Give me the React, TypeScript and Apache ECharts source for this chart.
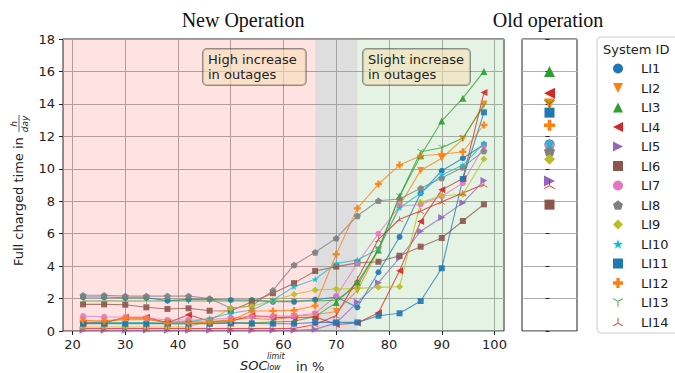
import React, { useEffect, useRef } from 'react';
import * as echarts from 'echarts';

// ---------- data ----------
const soc = [22, 26, 30, 34, 38, 42, 46, 50, 54, 58, 62, 66, 70, 74, 78, 82, 86, 90, 94, 98];
const systems = ['LI1', 'LI2', 'LI3', 'LI4', 'LI5', 'LI6', 'LI7', 'LI8', 'LI9', 'LI10', 'LI11', 'LI12', 'LI13', 'LI14'];

const li1 = [2.1, 2.1, 2.05, 2.05, 1.87, 1.95, 1.95, 1.91, 1.91, 1.8, 1.8, 1.93, 2.1, 1.46, 3.62, 5.8, 8.49, 9.88, 10.65, 11.5];
const li2 = [0.65, 0.6, 0.7, 0.7, 0.55, 0.6, 0.55, 0.7, 0.8, 0.7, 0.9, 1.0, 1.2, 2.5, 5.0, 7.7, 9.9, 10.65, 11.83, 14.0];
const li3 = [0.5, 0.5, 0.5, 0.5, 0.45, 0.45, 0.5, 0.5, 0.5, 0.55, 0.6, 0.9, 1.75, 3.0, 5.0, 8.3, 10.8, 12.95, 14.35, 16.0];
const li4 = [0.5, 0.5, 0.85, 0.85, 0.5, 1.0, 0.6, 0.6, 0.95, 0.85, 0.8, 0.88, 0.4, 0.5, 1.13, 3.72, 6.75, 8.7, 9.4, 14.7];
const li5 = [0.05, 0.05, 0.05, 0.05, 0.05, 0.05, 0.05, 0.05, 0.05, 0.05, 0.05, 0.1, 0.5, 1.77, 2.98, 4.5, 6.15, 7.0, 7.9, 9.27];
const li6 = [1.64, 1.64, 1.62, 1.46, 1.36, 1.4, 1.25, 1.23, 1.8, 2.33, 2.95, 3.7, 3.97, 4.2, 4.27, 4.64, 5.2, 5.73, 6.78, 7.81];
const li7 = [0.92, 0.88, 0.85, 0.8, 0.68, 0.68, 0.7, 0.8, 0.9, 0.92, 0.92, 1.09, 2.16, 4.18, 6.0, 7.7, 7.8, 8.3, 9.12, 11.4];
const li8 = [2.2, 2.2, 2.15, 2.15, 2.15, 2.15, 2.0, 1.4, 1.55, 2.5, 4.07, 4.85, 5.72, 7.1, 8.03, 8.14, 8.8, 9.43, 10.1, 11.1];
const li9 = [0.25, 0.25, 0.25, 0.25, 0.25, 0.25, 0.65, 1.4, 1.54, 1.87, 2.26, 2.53, 2.59, 2.63, 2.69, 2.73, 7.93, 8.34, 8.43, 10.6];
const li10 = [0.5, 0.5, 0.5, 0.5, 0.5, 0.55, 0.78, 1.09, 1.29, 1.91, 2.73, 3.19, 4.17, 4.38, 5.05, 7.6, 8.49, 9.62, 10.23, 11.57];
const li11 = [0.45, 0.45, 0.45, 0.45, 0.45, 0.45, 0.45, 0.5, 0.47, 0.45, 0.45, 0.53, 0.53, 0.53, 0.94, 1.09, 1.85, 3.87, 9.37, 13.48];
const li12 = [0.64, 0.6, 0.78, 0.78, 0.48, 0.5, 0.54, 0.64, 1.23, 1.24, 1.27, 1.56, 4.73, 7.56, 9.06, 10.23, 10.8, 10.9, 11.05, 12.7];
const li13 = [1.85, 1.85, 1.85, 1.85, 1.85, 1.85, 1.85, 1.85, 1.85, 1.85, 1.85, 1.85, 1.9, 2.8, 5.05, 8.3, 11.05, 11.3, 11.9, 13.9];
const li14 = [0.15, 0.15, 0.15, 0.15, 0.15, 0.15, 0.15, 0.15, 0.15, 0.15, 0.15, 0.4, 0.95, 3.2, 5.65, 6.89, 7.4, 7.97, 8.5, 9.04];
const seriesValues = [li1, li2, li3, li4, li5, li6, li7, li8, li9, li10, li11, li12, li13, li14];

// old operation (one value per system)
const oldOperation = [11.5, 14.0, 16.0, 14.65, 9.25, 7.79, 11.45, 11.1, 10.58, 11.55, 13.46, 12.68, 13.95, 9.04];

const xTicks = [20, 30, 40, 50, 60, 70, 80, 90, 100];
const X_MIN = 18.2;
const X_MAX = 101.8;
const highBand = [X_MIN, 66];
const transitionBand = [66, 74];
const slightBand = [74, X_MAX];

// ---------- styles ----------
const colors = ['#1f77b4', '#ff7f0e', '#2ca02c', '#d62728', '#9467bd', '#8c564b', '#e377c2', '#7f7f7f', '#bcbd22', '#17becf', '#1f77b4', '#ff7f0e', '#2ca02c', '#d62728'];

const TRI_DN = 'path://M0,10L-10,-10L10,-10Z';
const TRI_LEFT = 'path://M-10,0L10,-10L10,10Z';
const TRI_RIGHT = 'path://M10,0L-10,-10L-10,10Z';
const PENTAGON = 'path://M0,-10L9.51,-3.09L5.88,8.09L-5.88,8.09L-9.51,-3.09Z';
const STAR = 'path://M0,-10L2.35,-3.24L9.51,-3.09L3.8,1.24L5.88,8.09L0,4L-5.88,8.09L-3.8,1.24L-9.51,-3.09L-2.35,-3.24Z';
const PLUS = 'path://M-3.3,-10H3.3V-3.3H10V3.3H3.3V10H-3.3V3.3H-10V-3.3H-3.3Z';
const TRI_DOWN = 'path://M-0.8,0L0.8,0L0.8,10L-0.8,10Z M0.4,-0.69L-8.26,-5.69L-9.06,-4.31L-0.4,0.69Z M0.4,0.69L9.06,-4.31L8.26,-5.69L-0.4,-0.69Z';
const TRI_UP = 'path://M-0.8,0L0.8,0L0.8,-10L-0.8,-10Z M0.4,0.69L-8.26,5.69L-9.06,4.31L-0.4,-0.69Z M0.4,-0.69L9.06,4.31L8.26,5.69L-0.4,0.69Z';

const markers: { symbol: string; size: number }[] = [
  { symbol: 'circle', size: 6 },
  { symbol: TRI_DN, size: 7 },
  { symbol: 'triangle', size: 7 },
  { symbol: TRI_LEFT, size: 7 },
  { symbol: TRI_RIGHT, size: 7 },
  { symbol: 'rect', size: 6 },
  { symbol: 'circle', size: 6 },
  { symbol: PENTAGON, size: 7 },
  { symbol: 'diamond', size: 7 },
  { symbol: STAR, size: 7 },
  { symbol: 'rect', size: 6 },
  { symbol: PLUS, size: 7 },
  { symbol: TRI_DOWN, size: 7 },
  { symbol: TRI_UP, size: 7 },
];

const FONT = '"DejaVu Sans", sans-serif';
const SERIF = '"Liberation Serif", "DejaVu Serif", serif';
const TXT = '#222';

export default function App() {
  const ref = useRef<HTMLDivElement>(null);

  useEffect(() => {
    if (!ref.current) return;
    const chart = echarts.init(ref.current, null, { renderer: 'svg' });

    const oldSeries = systems.map((name, i) => ({
      type: 'scatter',
      name,
      xAxisIndex: 1,
      yAxisIndex: 1,
      data: [[0, oldOperation[i]]],
      symbol: markers[i].symbol,
      symbolKeepAspect: true,
      symbolSize: Math.round(markers[i].size * 1.6),
      itemStyle: { color: colors[i], opacity: 1 },
      emphasis: { disabled: true },
      silent: true,
    }));

    const lineSeries = systems.map((name, i) => ({
      type: 'line',
      name,
      xAxisIndex: 0,
      yAxisIndex: 0,
      data: soc.map((x, j) => [x, seriesValues[i][j]]),
      symbol: markers[i].symbol,
      symbolKeepAspect: true,
      symbolSize: markers[i].size,
      showSymbol: true,
      lineStyle: { width: 1.1, color: colors[i], opacity: 0.75 },
      itemStyle: { color: colors[i], opacity: 0.9 },
      emphasis: { disabled: true },
      silent: true,
      markArea: i === 0 ? {
        silent: true,
        data: [
          [{ xAxis: highBand[0], itemStyle: { color: 'rgba(255,0,0,0.11)' } }, { xAxis: highBand[1] }],
          [{ xAxis: transitionBand[0], itemStyle: { color: 'rgba(128,128,128,0.26)' } }, { xAxis: transitionBand[1] }],
          [{ xAxis: slightBand[0], itemStyle: { color: 'rgba(44,160,44,0.13)' } }, { xAxis: slightBand[1] }],
        ],
      } : undefined,
    }));

    const option: any = {
      animation: false,
      backgroundColor: '#fff',
      textStyle: { fontFamily: FONT },
      grid: [
        { left: 63, top: 39, width: 441, height: 292, show: true, borderColor: '#222', borderWidth: 1, backgroundColor: 'transparent' },
        { left: 522, top: 39, width: 55, height: 292, show: true, borderColor: '#222', borderWidth: 1, backgroundColor: 'transparent' },
      ],
      xAxis: [
        {
          type: 'value', gridIndex: 0, min: X_MIN, max: X_MAX, position: 'bottom',
          axisLine: { show: false },
          axisTick: { show: true, length: 4, lineStyle: { color: TXT }, customValues: xTicks },
          axisLabel: {
            customValues: xTicks, color: TXT, fontSize: 13, margin: 7, fontFamily: FONT,
            formatter: (v: number) => (Math.abs(v % 10) < 1e-6 ? String(v) : ''),
          },
          splitLine: { show: true, lineStyle: { color: '#b0b0b0', width: 1 } },
        },
        {
          type: 'value', gridIndex: 1, min: -1, max: 1, position: 'bottom',
          axisLine: { show: false }, axisTick: { show: false }, axisLabel: { show: false }, splitLine: { show: false },
        },
      ],
      yAxis: [
        {
          type: 'value', gridIndex: 0, min: 0, max: 18, interval: 2, position: 'left',
          axisLine: { show: false },
          axisTick: { show: true, length: 4, lineStyle: { color: TXT } },
          axisLabel: { color: TXT, fontSize: 13, margin: 8, fontFamily: FONT },
          splitLine: { show: true, lineStyle: { color: '#b0b0b0', width: 1 } },
        },
        {
          type: 'value', gridIndex: 1, min: 0, max: 18, interval: 2, position: 'left',
          axisLine: { show: false },
          axisTick: { show: true, length: 4, lineStyle: { color: TXT } },
          axisLabel: { show: false },
          splitLine: { show: true, lineStyle: { color: '#b0b0b0', width: 1 } },
        },
      ],
      legend: {
        orient: 'vertical',
        left: 613,
        top: 62,
        padding: 0,
        itemWidth: 10,
        itemHeight: 10,
        itemGap: 6.5,
        symbolKeepAspect: true,
        data: systems,
        textStyle: { color: TXT, fontSize: 13, fontFamily: FONT, padding: [0, 0, 0, 13] },
        selectedMode: false,
        z: 10,
      },
      graphic: [
        { type: 'text', x: 243, y: 20, style: { text: 'New Operation', font: `20px ${SERIF}`, fill: '#111', align: 'center', verticalAlign: 'middle' } },
        { type: 'text', x: 548, y: 20, style: { text: 'Old operation', font: `20px ${SERIF}`, fill: '#111', align: 'center', verticalAlign: 'middle' } },
        {
          type: 'text', x: 203, y: 49, z: 20,
          style: {
            text: 'High increase\nin outages', font: `13px ${FONT}`, fill: TXT, lineHeight: 15,
            backgroundColor: 'rgba(245,222,179,0.55)', borderColor: 'rgba(0,0,0,0.4)', borderWidth: 1, borderRadius: 4,
            padding: [3, 9, 3, 5],
          },
        },
        {
          type: 'text', x: 363, y: 49, z: 20,
          style: {
            text: 'Slight increase\nin outages', font: `13px ${FONT}`, fill: TXT, lineHeight: 15,
            backgroundColor: 'rgba(245,222,179,0.55)', borderColor: 'rgba(0,0,0,0.4)', borderWidth: 1, borderRadius: 4,
            padding: [3, 6, 3, 5],
          },
        },
        { type: 'rect', z: 0, shape: { x: 597, y: 37, width: 90, height: 296, r: 4 }, style: { fill: '#fff', stroke: '#cccccc', lineWidth: 1 } },
        { type: 'text', x: 603, y: 49, z: 5, style: { text: 'System ID', font: `13px ${FONT}`, fill: TXT, verticalAlign: 'middle' } },
        {
          type: 'group', x: 18.5, y: 266, rotation: Math.PI / 2,
          children: [
            { type: 'text', x: 0, y: 0, style: { text: 'Full charged time in', font: `13px ${FONT}`, fill: TXT, verticalAlign: 'middle', align: 'left' } },
            { type: 'text', x: 142, y: -5, style: { text: 'h', font: `italic 9px ${FONT}`, fill: TXT, verticalAlign: 'middle', align: 'center' } },
            { type: 'line', shape: { x1: 134, y1: 0.5, x2: 151, y2: 0.5 }, style: { stroke: TXT, lineWidth: 0.7 } },
            { type: 'text', x: 142, y: 6, style: { text: 'day', font: `italic 9px ${FONT}`, fill: TXT, verticalAlign: 'middle', align: 'center' } },
          ],
        },
        { type: 'text', x: 240, y: 365, style: { text: 'SOC', font: `italic 13px ${FONT}`, fill: TXT, verticalAlign: 'middle' } },
        { type: 'text', x: 267, y: 356.5, style: { text: 'limit', font: `italic 8px ${FONT}`, fill: TXT, verticalAlign: 'middle' } },
        { type: 'text', x: 267, y: 367.5, style: { text: 'low', font: `italic 8px ${FONT}`, fill: TXT, verticalAlign: 'middle' } },
        { type: 'text', x: 296, y: 366, style: { text: 'in %', font: `13px ${FONT}`, fill: TXT, verticalAlign: 'middle' } },
      ],
      series: [...oldSeries, ...lineSeries],
    };

    chart.setOption(option);
    return () => chart.dispose();
  }, []);

  return <div ref={ref} style={{ position: 'fixed', left: 0, top: 0, width: 675, height: 373 }} />;
}
